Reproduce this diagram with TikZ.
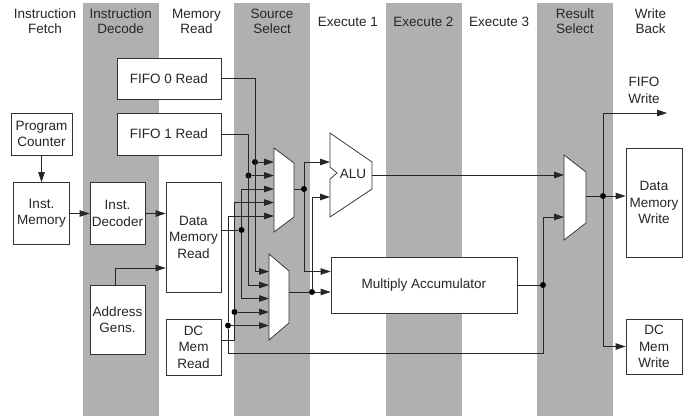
\documentclass[tikz,border=0pt]{standalone}
\usepackage{fontspec}
\setmainfont{Liberation Sans}
\usetikzlibrary{arrows.meta}

\begin{document}
\begin{tikzpicture}[x=1pt,y=-1pt,
	every node/.style={font=\fontsize{13.5}{16.5}\selectfont, align=center, text=black!85},
	hdr/.style={font=\fontsize{13.5}{15}\selectfont},
	band/.style={fill=black!31},
	blk/.style={draw=black!80, fill=white, line width=0.75pt, inner sep=0pt},
	wire/.style={line width=0.75pt, draw=black!85},
	arr/.style={wire, -{Triangle[length=10pt,width=6.5pt]}},
	dot/.style={circle, fill=black, inner sep=0pt, minimum size=6pt},
	mux/.style={draw=black!80, fill=white, line width=0.75pt}]

\useasboundingbox (0,0) rectangle (689,416);

% pipeline stages
\foreach \i in {0,...,3}
	\fill[band] (83+151.3*\i,3) rectangle +(76,413);
\foreach \t [count=\i] in {{Instruction\\Fetch},{Instruction\\Decode},{Memory\\Read},{Source\\Select},
	{Execute 1},{Execute 2},{Execute 3},{Result\\Select},{Write\\Back}}
	\node[hdr] (hdr\i) at (45+75.7*\i-75.7,21.5) {\t};

% blocks
\node[blk, minimum width=61pt, minimum height=42pt] (pc) at (41.5,134) {Program\\Counter};
\node[blk, minimum width=56pt, minimum height=62pt] (imem) at (41.5,213.5) {Inst.\\Memory};
\node[blk, minimum width=55pt, minimum height=62pt] (idec) at (117.5,213.5) {Inst.\\Decoder};
\node[blk, minimum width=55pt, minimum height=69pt] (agen) at (117.5,319.5) {Address\\Gens.};
\node[blk, minimum width=104pt, minimum height=41pt] (fifo0) at (169,78.5) {FIFO 0 Read};
\node[blk, minimum width=104pt, minimum height=42pt] (fifo1) at (169,134) {FIFO 1 Read};
\node[blk, minimum width=55pt, minimum height=110pt] (dmr) at (193.5,237) {Data\\Memory\\Read};
\node[blk, minimum width=55pt, minimum height=56pt] (dcmr) at (193.5,347) {DC\\Mem\\Read};
\node[blk, minimum width=186pt, minimum height=56pt] (mac) at (424,285) {Multiply Accumulator};
\node[blk, minimum width=56pt, minimum height=109pt] (dmw) at (654,202.5) {Data\\Memory\\Write};
\node[blk, minimum width=56pt, minimum height=55pt] (dcmw) at (654,346.5) {DC\\Mem\\Write};
\node (fifowr) at (644,90.5) {FIFO\\Write};
\coordinate (fifow) at (667,113);

% multiplexers and ALU
\draw[mux] (274,148) -- (294,163) -- (294,217) -- (274,232) -- cycle;
\draw[mux] (269,254) -- (289,271) -- (289,323) -- (269,340) -- cycle;
\draw[mux] (564,155) -- (586,172) -- (586,223) -- (564,240) -- cycle;
\draw[mux] (330,133) -- (372,162) -- (372,189) -- (330,217) -- (330,179) -- (337,173) -- (330,167) -- cycle;
\node[inner sep=0pt] (alu) at (353,174) {ALU};
\foreach \k in {1,...,5} {
	\coordinate (m1i\k) at (274,148.5+13.5*\k);
	\coordinate (m2i\k) at (269,258+13.5*\k);
}
\coordinate (m1o) at (294,189);
\coordinate (m2o) at (289,292);
\coordinate (m3i1) at (564,175);
\coordinate (m3i2) at (564,217);
\coordinate (m3o) at (586,196);
\coordinate (alu1) at (330,162);
\coordinate (alu2) at (330,197);
\coordinate (aluo) at (372,175);

% junctions
\node[dot] (d1) at (255,162) {};
\node[dot] (d2) at (248.5,175.5) {};
\node[dot] (d3) at (241.5,230) {};
\node[dot] (d4) at (234.5,312) {};
\node[dot] (d5) at (228,325.5) {};
\node[dot] (d6) at (543,285) {};
\node[dot] (d7) at (304,189) {};
\node[dot] (d8) at (312,292) {};
\node[dot] (d9) at (603,196) {};

% fetch and decode
\draw[arr] (pc) -- (imem);
\draw[arr] (imem) -- (idec);
\draw[arr] (idec) -- (idec -| dmr.west);
\draw[arr] ([xshift=-2.5pt]agen.north) |- ([yshift=-31pt]dmr.west);

% source select
\draw[arr] (fifo0.east) -| (m2i1 -| d1) -- (m2i1);
\draw[arr] (d1) -- (m1i1);
\draw[arr] (fifo1.east) -| (m2i2 -| d2) -- (m2i2);
\draw[arr] (d2) -- (m1i2);
\draw[wire] (d3 -| dmr.east) -- (d3);
\draw[arr] (d3) |- (m1i3);
\draw[arr] (d3) |- (m2i3);
\draw[arr] ([yshift=7pt]dcmr.east) -| (d4) -- (m2i4);
\draw[arr] (d4) |- (m1i4);
\draw[arr] (d6) -- ++(0,68) -| (d5) -- (m2i5);
\draw[arr] (d5) |- (m1i5);

% execute
\draw[wire] (m1o) -- (d7);
\draw[arr] (d7) |- (alu1);
\draw[arr] (d7) |- ([yshift=13.5pt]mac.west);
\draw[wire] (m2o) -- (d8);
\draw[arr] (d8) -- ([yshift=-7pt]mac.west);
\draw[arr] (d8) |- (alu2);
\draw[arr] (aluo) -- (m3i1);
\draw[wire] (mac.east) -- (d6);
\draw[arr] (d6) |- (m3i2);

% write back
\draw[wire] (m3o) -- (d9);
\draw[arr] (d9) -- (d9 -| dmw.west);
\draw[arr] (d9) |- (fifow);
\draw[arr] (d9) |- (dcmw.west);

\end{tikzpicture}
\end{document}
